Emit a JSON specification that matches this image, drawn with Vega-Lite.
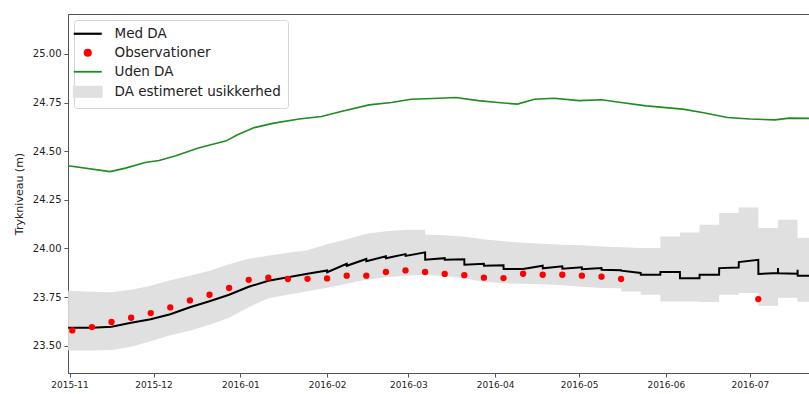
{
  "$schema": "https://vega.github.io/schema/vega-lite/v6.json",
  "width": 745,
  "height": 359,
  "autosize": {"type": "none"},
  "padding": {"left": 68, "top": 14, "right": 0, "bottom": 21},
  "background": "white",
  "config": {
    "font": "DejaVu Sans",
    "view": {"stroke": "#555555", "strokeWidth": 1},
    "axis": {
      "domainColor": "#555555",
      "tickColor": "#555555",
      "labelColor": "#222222",
      "labelFont": "DejaVu Sans",
      "titleFont": "DejaVu Sans",
      "titleColor": "#222222",
      "grid": false,
      "tickSize": 4,
      "labelPadding": 3
    },
    "legend": {
      "labelFont": "DejaVu Sans",
      "labelFontSize": 13.5,
      "labelColor": "#222222"
    }
  },
  "datasets": {
    "usikkerhed": [
      {"dato": "2015-10-31T12:00", "hoej": 23.783, "lav": 23.475},
      {"dato": "2015-11-09T00:00", "hoej": 23.778, "lav": 23.475},
      {"dato": "2015-11-16T00:00", "hoej": 23.775, "lav": 23.478},
      {"dato": "2015-11-23T00:00", "hoej": 23.788, "lav": 23.495},
      {"dato": "2015-11-30T00:00", "hoej": 23.808, "lav": 23.523},
      {"dato": "2015-12-07T00:00", "hoej": 23.837, "lav": 23.554},
      {"dato": "2015-12-14T00:00", "hoej": 23.860, "lav": 23.577},
      {"dato": "2015-12-21T00:00", "hoej": 23.885, "lav": 23.608},
      {"dato": "2015-12-28T00:00", "hoej": 23.919, "lav": 23.644},
      {"dato": "2016-01-04T00:00", "hoej": 23.947, "lav": 23.698},
      {"dato": "2016-01-11T00:00", "hoej": 23.963, "lav": 23.744},
      {"dato": "2016-01-18T00:00", "hoej": 23.978, "lav": 23.762},
      {"dato": "2016-01-25T00:00", "hoej": 23.991, "lav": 23.780},
      {"dato": "2016-02-01T00:00", "hoej": 24.022, "lav": 23.798},
      {"dato": "2016-02-08T00:00", "hoej": 24.047, "lav": 23.819},
      {"dato": "2016-02-15T00:00", "hoej": 24.076, "lav": 23.839},
      {"dato": "2016-02-22T00:00", "hoej": 24.088, "lav": 23.852},
      {"dato": "2016-02-29T00:00", "hoej": 24.096, "lav": 23.860},
      {"dato": "2016-03-07T00:00", "hoej": 24.096, "lav": 23.865},
      {"dato": "2016-03-07T01:00", "hoej": 24.070, "lav": 23.865},
      {"dato": "2016-03-14T00:00", "hoej": 24.068, "lav": 23.857},
      {"dato": "2016-03-21T00:00", "hoej": 24.060, "lav": 23.847},
      {"dato": "2016-03-28T00:00", "hoej": 24.047, "lav": 23.829},
      {"dato": "2016-04-04T00:00", "hoej": 24.037, "lav": 23.821},
      {"dato": "2016-04-11T00:00", "hoej": 24.029, "lav": 23.819},
      {"dato": "2016-04-18T00:00", "hoej": 24.024, "lav": 23.816},
      {"dato": "2016-04-25T00:00", "hoej": 24.019, "lav": 23.811},
      {"dato": "2016-05-02T00:00", "hoej": 24.016, "lav": 23.803},
      {"dato": "2016-05-09T00:00", "hoej": 24.010, "lav": 23.797},
      {"dato": "2016-05-16T00:00", "hoej": 24.006, "lav": 23.796},
      {"dato": "2016-05-16T01:00", "hoej": 24.006, "lav": 23.779},
      {"dato": "2016-05-23T00:00", "hoej": 24.002, "lav": 23.779},
      {"dato": "2016-05-23T01:00", "hoej": 24.002, "lav": 23.762},
      {"dato": "2016-05-30T00:00", "hoej": 24.002, "lav": 23.762},
      {"dato": "2016-05-30T01:00", "hoej": 24.062, "lav": 23.728},
      {"dato": "2016-06-06T00:00", "hoej": 24.062, "lav": 23.728},
      {"dato": "2016-06-06T01:00", "hoej": 24.082, "lav": 23.728},
      {"dato": "2016-06-13T00:00", "hoej": 24.082, "lav": 23.728},
      {"dato": "2016-06-13T01:00", "hoej": 24.122, "lav": 23.725},
      {"dato": "2016-06-20T00:00", "hoej": 24.122, "lav": 23.725},
      {"dato": "2016-06-20T01:00", "hoej": 24.182, "lav": 23.762},
      {"dato": "2016-06-27T00:00", "hoej": 24.182, "lav": 23.762},
      {"dato": "2016-06-27T01:00", "hoej": 24.211, "lav": 23.771},
      {"dato": "2016-07-04T00:00", "hoej": 24.211, "lav": 23.771},
      {"dato": "2016-07-04T01:00", "hoej": 24.105, "lav": 23.706},
      {"dato": "2016-07-11T00:00", "hoej": 24.105, "lav": 23.706},
      {"dato": "2016-07-11T01:00", "hoej": 24.147, "lav": 23.747},
      {"dato": "2016-07-18T00:00", "hoej": 24.147, "lav": 23.747},
      {"dato": "2016-07-18T01:00", "hoej": 24.055, "lav": 23.726},
      {"dato": "2016-07-23T13:00", "hoej": 24.055, "lav": 23.726}
    ],
    "uden_da": [
      {"dato": "2015-10-31T12:00", "niveau": 24.425},
      {"dato": "2015-11-15T12:00", "niveau": 24.395},
      {"dato": "2015-11-21T00:00", "niveau": 24.413},
      {"dato": "2015-11-28T00:00", "niveau": 24.442},
      {"dato": "2015-12-03T00:00", "niveau": 24.452},
      {"dato": "2015-12-09T00:00", "niveau": 24.476},
      {"dato": "2015-12-17T00:00", "niveau": 24.516},
      {"dato": "2015-12-27T00:00", "niveau": 24.553},
      {"dato": "2015-12-31T00:00", "niveau": 24.584},
      {"dato": "2016-01-06T00:00", "niveau": 24.621},
      {"dato": "2016-01-13T00:00", "niveau": 24.644},
      {"dato": "2016-01-22T00:00", "niveau": 24.665},
      {"dato": "2016-01-30T00:00", "niveau": 24.678},
      {"dato": "2016-02-06T00:00", "niveau": 24.704},
      {"dato": "2016-02-16T00:00", "niveau": 24.738},
      {"dato": "2016-02-24T00:00", "niveau": 24.750},
      {"dato": "2016-03-02T00:00", "niveau": 24.767},
      {"dato": "2016-03-12T00:00", "niveau": 24.772},
      {"dato": "2016-03-18T00:00", "niveau": 24.776},
      {"dato": "2016-03-26T00:00", "niveau": 24.760},
      {"dato": "2016-04-02T00:00", "niveau": 24.750},
      {"dato": "2016-04-09T00:00", "niveau": 24.742},
      {"dato": "2016-04-15T00:00", "niveau": 24.767},
      {"dato": "2016-04-22T00:00", "niveau": 24.772},
      {"dato": "2016-05-01T00:00", "niveau": 24.760},
      {"dato": "2016-05-09T00:00", "niveau": 24.764},
      {"dato": "2016-05-16T00:00", "niveau": 24.750},
      {"dato": "2016-05-25T00:00", "niveau": 24.733},
      {"dato": "2016-06-07T00:00", "niveau": 24.716},
      {"dato": "2016-06-14T00:00", "niveau": 24.699},
      {"dato": "2016-06-23T00:00", "niveau": 24.673},
      {"dato": "2016-07-01T00:00", "niveau": 24.665},
      {"dato": "2016-07-10T00:00", "niveau": 24.661},
      {"dato": "2016-07-15T00:00", "niveau": 24.670},
      {"dato": "2016-07-23T13:00", "niveau": 24.668}
    ],
    "med_da": [
      {"dato": "2015-10-31T12:00", "niveau": 23.593},
      {"dato": "2015-11-02T00:00", "niveau": 23.593},
      {"dato": "2015-11-09T00:00", "niveau": 23.593},
      {"dato": "2015-11-16T00:00", "niveau": 23.598},
      {"dato": "2015-11-23T00:00", "niveau": 23.618},
      {"dato": "2015-11-30T00:00", "niveau": 23.636},
      {"dato": "2015-12-07T00:00", "niveau": 23.662},
      {"dato": "2015-12-14T00:00", "niveau": 23.698},
      {"dato": "2015-12-21T00:00", "niveau": 23.729},
      {"dato": "2015-12-28T00:00", "niveau": 23.762},
      {"dato": "2016-01-04T00:00", "niveau": 23.803},
      {"dato": "2016-01-11T00:00", "niveau": 23.834},
      {"dato": "2016-01-18T00:00", "niveau": 23.852},
      {"dato": "2016-01-25T00:00", "niveau": 23.870},
      {"dato": "2016-02-01T00:00", "niveau": 23.887},
      {"dato": "2016-02-01T01:00", "niveau": 23.878},
      {"dato": "2016-02-08T00:00", "niveau": 23.921},
      {"dato": "2016-02-08T01:00", "niveau": 23.911},
      {"dato": "2016-02-15T00:00", "niveau": 23.946},
      {"dato": "2016-02-15T01:00", "niveau": 23.934},
      {"dato": "2016-02-22T00:00", "niveau": 23.960},
      {"dato": "2016-02-22T01:00", "niveau": 23.950},
      {"dato": "2016-02-29T00:00", "niveau": 23.971},
      {"dato": "2016-02-29T01:00", "niveau": 23.962},
      {"dato": "2016-03-07T00:00", "niveau": 23.980},
      {"dato": "2016-03-07T01:00", "niveau": 23.942},
      {"dato": "2016-03-14T00:00", "niveau": 23.950},
      {"dato": "2016-03-14T01:00", "niveau": 23.942},
      {"dato": "2016-03-21T00:00", "niveau": 23.945},
      {"dato": "2016-03-21T01:00", "niveau": 23.916},
      {"dato": "2016-03-28T00:00", "niveau": 23.921},
      {"dato": "2016-03-28T01:00", "niveau": 23.911},
      {"dato": "2016-04-04T00:00", "niveau": 23.914},
      {"dato": "2016-04-04T01:00", "niveau": 23.894},
      {"dato": "2016-04-11T00:00", "niveau": 23.894},
      {"dato": "2016-04-18T00:00", "niveau": 23.911},
      {"dato": "2016-04-18T01:00", "niveau": 23.898},
      {"dato": "2016-04-25T00:00", "niveau": 23.908},
      {"dato": "2016-04-25T01:00", "niveau": 23.896},
      {"dato": "2016-05-02T00:00", "niveau": 23.903},
      {"dato": "2016-05-02T01:00", "niveau": 23.893},
      {"dato": "2016-05-09T00:00", "niveau": 23.899},
      {"dato": "2016-05-09T01:00", "niveau": 23.891},
      {"dato": "2016-05-16T00:00", "niveau": 23.888},
      {"dato": "2016-05-16T01:00", "niveau": 23.886},
      {"dato": "2016-05-23T00:00", "niveau": 23.874},
      {"dato": "2016-05-23T01:00", "niveau": 23.865},
      {"dato": "2016-05-30T00:00", "niveau": 23.865},
      {"dato": "2016-05-30T01:00", "niveau": 23.879},
      {"dato": "2016-06-06T00:00", "niveau": 23.879},
      {"dato": "2016-06-06T01:00", "niveau": 23.847},
      {"dato": "2016-06-13T00:00", "niveau": 23.847},
      {"dato": "2016-06-13T01:00", "niveau": 23.865},
      {"dato": "2016-06-20T00:00", "niveau": 23.865},
      {"dato": "2016-06-20T01:00", "niveau": 23.899},
      {"dato": "2016-06-27T00:00", "niveau": 23.902},
      {"dato": "2016-06-27T01:00", "niveau": 23.930},
      {"dato": "2016-07-04T00:00", "niveau": 23.942},
      {"dato": "2016-07-04T01:00", "niveau": 23.869},
      {"dato": "2016-07-11T00:00", "niveau": 23.874},
      {"dato": "2016-07-11T01:00", "niveau": 23.899},
      {"dato": "2016-07-11T02:00", "niveau": 23.873},
      {"dato": "2016-07-18T00:00", "niveau": 23.870},
      {"dato": "2016-07-18T01:00", "niveau": 23.891},
      {"dato": "2016-07-18T02:00", "niveau": 23.860},
      {"dato": "2016-07-23T13:00", "niveau": 23.860}
    ],
    "observationer": [
      {"dato": "2015-11-02T00:00", "niveau": 23.579},
      {"dato": "2015-11-09T00:00", "niveau": 23.596},
      {"dato": "2015-11-16T00:00", "niveau": 23.622},
      {"dato": "2015-11-23T00:00", "niveau": 23.644},
      {"dato": "2015-11-30T00:00", "niveau": 23.668},
      {"dato": "2015-12-07T00:00", "niveau": 23.697},
      {"dato": "2015-12-14T00:00", "niveau": 23.733},
      {"dato": "2015-12-21T00:00", "niveau": 23.762},
      {"dato": "2015-12-28T00:00", "niveau": 23.797},
      {"dato": "2016-01-04T00:00", "niveau": 23.839},
      {"dato": "2016-01-11T00:00", "niveau": 23.850},
      {"dato": "2016-01-18T00:00", "niveau": 23.843},
      {"dato": "2016-01-25T00:00", "niveau": 23.844},
      {"dato": "2016-02-01T00:00", "niveau": 23.846},
      {"dato": "2016-02-08T00:00", "niveau": 23.860},
      {"dato": "2016-02-15T00:00", "niveau": 23.860},
      {"dato": "2016-02-22T00:00", "niveau": 23.879},
      {"dato": "2016-02-29T00:00", "niveau": 23.887},
      {"dato": "2016-03-07T00:00", "niveau": 23.879},
      {"dato": "2016-03-14T00:00", "niveau": 23.869},
      {"dato": "2016-03-21T00:00", "niveau": 23.863},
      {"dato": "2016-03-28T00:00", "niveau": 23.850},
      {"dato": "2016-04-04T00:00", "niveau": 23.848},
      {"dato": "2016-04-11T00:00", "niveau": 23.870},
      {"dato": "2016-04-18T00:00", "niveau": 23.865},
      {"dato": "2016-04-25T00:00", "niveau": 23.865},
      {"dato": "2016-05-02T00:00", "niveau": 23.860},
      {"dato": "2016-05-09T00:00", "niveau": 23.855},
      {"dato": "2016-05-16T00:00", "niveau": 23.843},
      {"dato": "2016-07-04T00:00", "niveau": 23.740}
    ]
  },
  "encoding": {
    "x": {
      "field": "dato",
      "type": "temporal",
      "scale": {
        "domain": [
          {"year": 2015, "month": 10, "date": 31, "hours": 11},
          {"year": 2016, "month": 7, "date": 23, "hours": 13}
        ]
      },
      "axis": {
        "title": null,
        "format": "%Y-%m",
        "tickCount": {"interval": "month", "step": 1},
        "labelFontSize": 9,
        "labelFlush": false,
        "labelOverlap": false
      }
    }
  },
  "layer": [
    {
      "data": {"name": "usikkerhed"},
      "mark": {"type": "area", "opacity": 1, "interpolate": "linear"},
      "encoding": {
        "y": {
          "field": "hoej",
          "type": "quantitative",
          "scale": {"domain": [23.36, 25.205], "nice": false, "zero": false},
          "axis": {
            "title": "Trykniveau (m)",
            "titleFontSize": 11,
            "titleFontWeight": "normal",
            "titlePadding": 8,
            "values": [23.5, 23.75, 24.0, 24.25, 24.5, 24.75, 25.0],
            "format": ".2f",
            "labelFontSize": 10
          }
        },
        "y2": {"field": "lav"},
        "color": {
          "datum": "DA estimeret usikkerhed",
          "type": "nominal",
          "scale": {
            "domain": ["Med DA", "Observationer", "Uden DA", "DA estimeret usikkerhed"],
            "range": ["#000000", "#ff0000", "#1e8c1e", "#e0e0e0"]
          },
          "legend": {
            "title": null,
            "orient": "top-left",
            "offset": 6,
            "padding": 7,
            "fillColor": "white",
            "strokeColor": "#d4d4d4",
            "cornerRadius": 3,
            "symbolSize": 784,
            "labelLimit": 400,
            "rowPadding": 4,
            "labelOffset": 20,
            "encoding": {
              "symbols": {
                "shape": {"value": {"expr": "datum.label === 'Observationer' ? 'circle' : datum.label === 'DA estimeret usikkerhed' ? 'M-1,-0.36H1V0.36H-1Z' : 'stroke'"}},
                "size": {"value": {"expr": "datum.label === 'Observationer' ? 40 : 784"}},
                "fill": {"value": {"expr": "datum.label === 'Observationer' ? '#ff0000' : datum.label === 'DA estimeret usikkerhed' ? '#e0e0e0' : 'transparent'"}},
                "stroke": {"value": {"expr": "datum.label === 'Med DA' ? '#000000' : datum.label === 'Uden DA' ? '#1e8c1e' : 'transparent'"}},
                "strokeWidth": {"value": {"expr": "datum.label === 'Med DA' ? 2.2 : 1.8"}},
                "opacity": {"value": 1},
                "fillOpacity": {"value": 1},
                "strokeOpacity": {"value": 1}
              }
            }
          }
        }
      }
    },
    {
      "data": {"name": "uden_da"},
      "mark": {"type": "line", "strokeWidth": 1.6},
      "encoding": {
        "y": {"field": "niveau", "type": "quantitative"},
        "color": {"datum": "Uden DA", "type": "nominal"}
      }
    },
    {
      "data": {"name": "med_da"},
      "mark": {"type": "line", "strokeWidth": 2},
      "encoding": {
        "y": {"field": "niveau", "type": "quantitative"},
        "color": {"datum": "Med DA", "type": "nominal"}
      }
    },
    {
      "data": {"name": "observationer"},
      "mark": {"type": "point", "filled": true, "size": 40, "opacity": 1, "strokeWidth": 0},
      "encoding": {
        "y": {"field": "niveau", "type": "quantitative"},
        "color": {"datum": "Observationer", "type": "nominal"}
      }
    }
  ]
}
